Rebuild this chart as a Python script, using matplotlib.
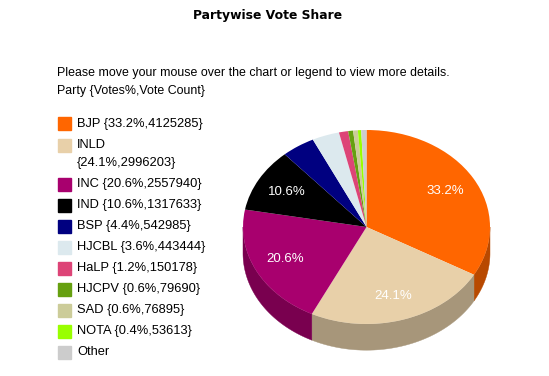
import numpy as np
import matplotlib
matplotlib.use("Agg")
import matplotlib.pyplot as plt
from matplotlib.colors import to_rgb
from matplotlib.patches import Rectangle, Polygon

plt.rcParams["font.family"] = ["Liberation Sans", "DejaVu Sans"]

parties = ["BJP", "INLD", "INC", "IND", "BSP", "HJCBL", "HaLP", "HJCPV", "SAD", "NOTA", "Other"]
pcts = [33.2, 24.1, 20.6, 10.6, 4.4, 3.6, 1.2, 0.6, 0.6, 0.4, 0.7]
votes = [4125285, 2996203, 2557940, 1317633, 542985, 443444, 150178, 79690, 76895, 53613, 85000]
colors = ["#ff6600", "#e8d0a9", "#a8006e", "#000000", "#000080", "#dce9ee",
          "#dd4477", "#66a010", "#cccc99", "#99ff00", "#cccccc"]

W, H = 549, 376
fig = plt.figure(figsize=(W / 100, H / 100), dpi=100)

fig.text(268 / W, 1 - 16 / H, "Partywise Vote Share", ha="center", va="center",
         fontsize=8.9, fontweight="bold", family="DejaVu Sans")
fig.text(57 / W, 1 - 73 / H, "Please move your mouse over the chart or legend to view more details.",
         ha="left", va="center", fontsize=8.9)
fig.text(57 / W, 1 - 91 / H, "Party {Votes%,Vote Count}", ha="left", va="center", fontsize=8.9)

# legend
y = 124
for p, pc, v, c in zip(parties, pcts, votes, colors):
    label = p if p == "Other" else f"{p} {{{pc}%,{v}}}"
    if len(label) > 19:
        label = label.replace(" ", "\n", 1)
    fig.patches.append(Rectangle((58 / W, 1 - (y + 6.5) / H), 13 / W, 13 / H,
                                 transform=fig.transFigure, color=c, figure=fig))
    fig.text(77 / W, 1 - y / H, label.split("\n")[0], ha="left", va="center", fontsize=9.3)
    if "\n" in label:
        y += 18
        fig.text(77 / W, 1 - y / H, label.split("\n")[1], ha="left", va="center", fontsize=9.3)
    y += 21

# 3D pie: ellipse top with side wall
cx, cy, rx, ry = 366.5, 227, 123.5, 97
ax = fig.add_axes([(cx - 1.2 * rx) / W, (H - (cy + 1.5 * ry)) / H,
                   2.4 * rx / W, 2.7 * ry / H])
depth = 0.27
vals = np.array(votes, dtype=float)
fr = vals / vals.sum()
start = 90.0
theta2 = start - np.cumsum(fr) * 360
theta1 = np.concatenate([[start], theta2[:-1]])
for t1, t2, c in zip(theta1, theta2, colors):
    lo, hi = min(t1, t2), max(t1, t2)
    # visible part of side: angles in (180, 360) mod 360
    for off in (-360, 0):
        a = max(lo, 180 + off)
        b = min(hi, 360 + off)
        if b > a:
            t = np.radians(np.linspace(a, b, 60))
            xs = np.cos(t)
            ys = np.sin(t)
            pts = np.column_stack([np.concatenate([xs, xs[::-1]]),
                                   np.concatenate([ys, ys[::-1] - depth])])
            dark = tuple(v * 0.72 for v in to_rgb(c))
            ax.add_patch(Polygon(pts, closed=True, facecolor=dark, edgecolor=dark, lw=0.3))

wedges, texts, autotexts = ax.pie(
    vals, colors=colors, startangle=90, counterclock=False,
    autopct=lambda p: f"{p:.1f}%" if p >= 10 else "", pctdistance=0.74,
    textprops=dict(color="white", fontsize=9.5),
    wedgeprops=dict(linewidth=0.3, edgecolor="none"))
ax.set_aspect("auto")
ax.set_xlim(-1.2, 1.2)
ax.set_ylim(-1.5, 1.2)
ax.axis("off")

fig.savefig("out.png", dpi=100)
